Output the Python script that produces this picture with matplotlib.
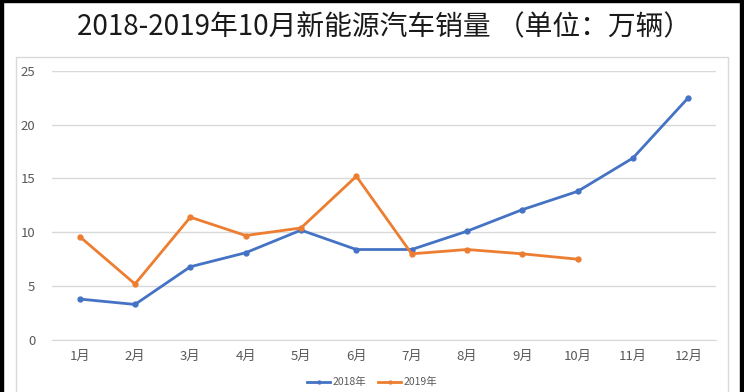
import matplotlib
matplotlib.use("Agg")
import matplotlib.pyplot as plt
from matplotlib.patches import Rectangle

plt.rcParams['font.family'] = ['Noto Sans CJK SC', 'DejaVu Sans']

months = ['1月', '2月', '3月', '4月', '5月', '6月', '7月', '8月', '9月', '10月', '11月', '12月']
sales_2018 = [3.8, 3.3, 6.8, 8.1, 10.2, 8.4, 8.4, 10.1, 12.1, 13.8, 16.9, 22.5]
sales_2019 = [9.6, 5.2, 11.4, 9.7, 10.4, 15.2, 8.0, 8.4, 8.0, 7.5]
yticks = [0, 5, 10, 15, 20, 25]

blue = '#4472C4'
orange = '#ED7D31'
grey_txt = '#595959'

fig = plt.figure(figsize=(7.44, 3.92), dpi=100)
ax = fig.add_axes([0.0699, 0.1327, 0.8925, 0.6869])

x18 = list(range(1, len(sales_2018) + 1))
x19 = list(range(1, len(sales_2019) + 1))
ax.plot(x18, sales_2018, color=blue, lw=2, marker='o', ms=3.5, label='2018年')
ax.plot(x19, sales_2019, color=orange, lw=2, marker='o', ms=3.5, label='2019年')

ax.set_xlim(0.5, 12.5)
ax.set_ylim(0, 25)
ax.set_yticks(yticks)
ax.set_xticks(x18)
ax.set_xticklabels(months)
ax.grid(axis='y', color='#D9D9D9', lw=1)
ax.set_axisbelow(True)
for s in ['top', 'right', 'left']:
    ax.spines[s].set_visible(False)
ax.spines['bottom'].set_color('#D9D9D9')
ax.tick_params(axis='both', length=0, colors=grey_txt, labelsize=9.5)
ax.tick_params(axis='y', pad=12)
ax.tick_params(axis='x', pad=7)

leg = fig.legend(loc='center', bbox_to_anchor=(0.5, 0.025), ncol=2, frameon=False,
                 fontsize=7.5, handlelength=2.2, columnspacing=1.2, handletextpad=0.2,
                 markerscale=0.6, labelcolor=grey_txt)

fig.text(0.516, 0.93, '2018-2019年10月新能源汽车销量 （单位：万辆）', ha='center', va='center',
         fontsize=20, color='#1a1a1a')

# chart area border and outer black frame
fig.patches.append(Rectangle((16 / 744, -0.01), 712 / 744, 1 - 57 / 392 + 0.01,
                             transform=fig.transFigure, fill=False, ec='#D9D9D9', lw=1))
fig.patches.append(Rectangle((0, 0), 3 / 744, 1, transform=fig.transFigure, color='black'))
fig.patches.append(Rectangle((740 / 744, 0), 4 / 744, 1, transform=fig.transFigure, color='black'))
fig.patches.append(Rectangle((0, 1 - 2 / 392), 1, 2 / 392, transform=fig.transFigure, color='black'))

fig.savefig('out.png', dpi=100)
